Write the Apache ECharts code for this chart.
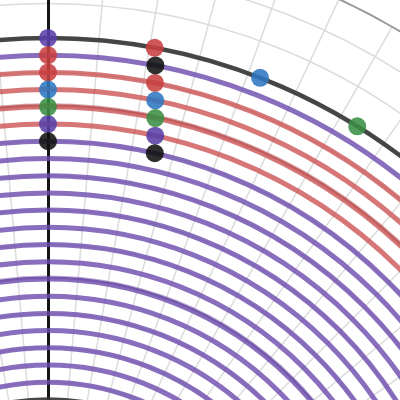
<!DOCTYPE html>
<html>
<head>
<meta charset="utf-8">
<script src="https://cdn.jsdelivr.net/npm/echarts@6/dist/echarts.min.js"></script>
<style>html,body{margin:0;padding:0;background:#fff}#c{width:400px;height:400px}</style>
</head>
<body>
<div id="c"></div>
<script>
// Ring radii (radius-axis units), grouped by colour
var darkRings = [34, 13];
var purpleRings = [33, 28, 27, 26, 25, 24, 23, 22, 21, 20, 19, 18, 17, 16, 15, 14];
var redRings = [32, 31, 30, 29];
// Second traces lying almost on top of an existing ring
var purpleOverlapRings = [20.12];
var redOverlapRings = [30.12];
// Dots: [radius, angle (deg, clockwise from top)]
var purpleDots = [[34, 0], [29, 0], [29, 12.4]];
var redDots = [[33, 0], [32, 0], [34, 10.5], [32, 11.2]];
var blueDots = [[31, 0], [31, 11.6], [34, 21.25]];
var greenDots = [[30, 0], [30, 12.0], [34, 31.9]];
var blackDots = [[28, 0], [33, 10.9], [28, 12.8]];

function ringSeries(rings, color, opacity, width) {
  return {
    type: 'custom',
    coordinateSystem: 'polar',
    data: rings.map(function (r) { return [r, 0]; }),
    silent: true,
    renderItem: function (params, api) {
      var c0 = api.coord([0, 0]);
      var p = api.coord([api.value(0), 0]);
      var rad = Math.sqrt((p[0] - c0[0]) * (p[0] - c0[0]) + (p[1] - c0[1]) * (p[1] - c0[1]));
      return {
        type: 'circle',
        shape: { cx: c0[0], cy: c0[1], r: rad },
        style: { fill: 'none', stroke: color, lineWidth: width, opacity: opacity }
      };
    }
  };
}
function dotSeries(data, color) {
  return {
    type: 'scatter',
    coordinateSystem: 'polar',
    data: data,
    symbolSize: 18,
    itemStyle: { color: color, opacity: 0.88 },
    z: 5
  };
}

var chart = echarts.init(document.getElementById('c'), null, { renderer: 'canvas' });
chart.setOption({
  animation: false,
  backgroundColor: '#fff',
  polar: { center: [48, 623.2], radius: 688.5 },
  angleAxis: {
    type: 'value', min: 0, max: 360, interval: 5, startAngle: 90, clockwise: true,
    axisLine: { show: true, lineStyle: { color: '#999', width: 2 } },
    axisTick: { show: false }, axisLabel: { show: false },
    splitLine: { show: true, lineStyle: { color: '#dcdcdc', width: 1.5 } }
  },
  radiusAxis: {
    type: 'value', min: 0, max: 40, interval: 2,
    axisLine: { show: true, lineStyle: { color: '#151515', width: 3 } },
    axisTick: { show: false }, axisLabel: { show: false },
    splitLine: { show: true, lineStyle: { color: '#dcdcdc', width: 1.5 } }
  },
  series: [
    ringSeries(purpleRings, '#6a4aad', 0.8, 5),
    ringSeries(purpleOverlapRings, '#5a3a9a', 0.45, 3),
    ringSeries(redRings, '#c8484a', 0.75, 5),
    ringSeries(redOverlapRings, '#a83a3c', 0.45, 3),
    ringSeries(darkRings, '#333333', 0.9, 4.5),
    dotSeries(purpleDots, '#5a3fa8'),
    dotSeries(redDots, '#c84040'),
    dotSeries(blueDots, '#2f78c0'),
    dotSeries(greenDots, '#3a8f45'),
    dotSeries(blackDots, '#111111')
  ]
});
</script>
</body>
</html>
